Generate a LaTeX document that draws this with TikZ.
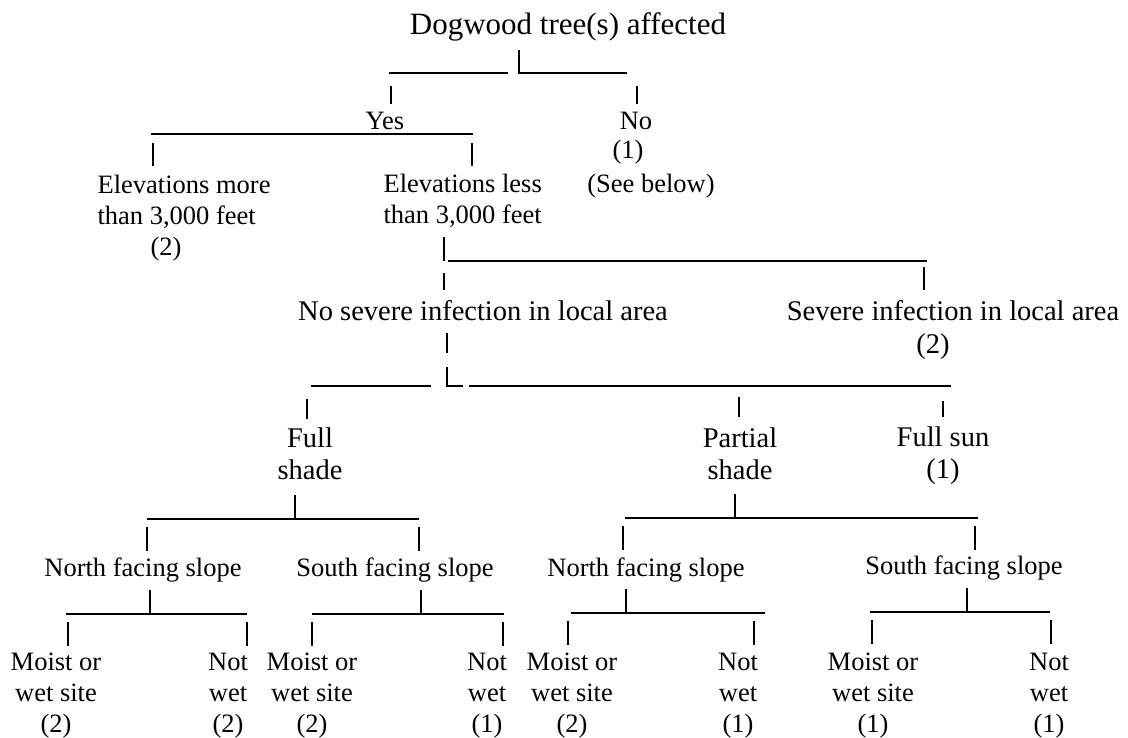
\documentclass[tikz,border=0pt]{standalone}
\usepackage{fontspec}
\setmainfont{Liberation Serif}
\begin{document}
\begin{tikzpicture}[x=1pt,y=-1pt,line width=1.2pt,
  lbl/.style={inner sep=0pt,anchor=base,align=center,font=\fontsize{26.5}{31}\selectfont},
  big/.style={lbl,font=\fontsize{28.5}{32}\selectfont}]
  \useasboundingbox (0,0) rectangle (1128,738);
  \node[lbl,font=\fontsize{31}{36}\selectfont] (top) at (568,35) {Dogwood tree(s) affected};
  \node[lbl] (yes) at (385,130) {Yes};
  \node[lbl] (no) at (636,130) {No};
  \node[lbl] (noa) at (628,159) {(1)};
  \node[lbl] (nob) at (651,193) {(See below)};
  \node[lbl,anchor=base west,align=left] (hi) at (97,225) {Elevations more\\than 3,000 feet};
  \node[lbl] (hia) at (166,256) {(2)};
  \node[lbl,anchor=base west,align=left] (lo) at (383,224) {Elevations less\\than 3,000 feet};
  \node[big] (nosev) at (483,320) {No severe infection in local area};
  \node[big] (sev) at (953,320) {Severe infection in local area};
  \node[big] (seva) at (933,353) {(2)};
  \node[big] (fshade) at (310,479) {Full\\shade};
  \node[big] (pshade) at (740,479) {Partial\\shade};
  \node[big] (fsun) at (943,478) {Full sun\\(1)};
  \node[lbl] (fn) at (143,576) {North facing slope};
  \node[lbl] (fs) at (395,576) {South facing slope};
  \node[lbl] (pn) at (646,576) {North facing slope};
  \node[lbl] (ps) at (964,574) {South facing slope};
  \foreach \n/\x/\v in {fnm/56/2,fsm/312/2,pnm/572/2,psm/873/1}
    \node[lbl] (\n) at (\x,732) {Moist or\\wet site\\(\v)};
  \foreach \n/\x/\v in {fnn/228/2,fsn/487/1,pnn/738/1,psn/1049/1}
    \node[lbl] (\n) at (\x,732) {Not\\wet\\(\v)};
  % top fork
  \coordinate (t0) at (519,50);
  \coordinate (t1) at (519,73);
  \draw (t0) -- (t1) -- (627,73);
  \draw (389,73) -- (508,73);
  \draw (391,86) -- (391,104);
  \draw (637,86) -- (637,104);
  % yes fork
  \coordinate (y0) at (151,134);
  \coordinate (y1) at (473,134);
  \draw (y0) -- (y1);
  \draw (153,143) -- (153,166);
  \draw (472,143) -- (472,166);
  % below 3,000 feet
  \coordinate (l0) at (444,237);
  \coordinate (l1) at (444,261);
  \draw (l0) -- (l1);
  \draw (448,261) -- (927,261);
  \draw (444,273) -- (444,290);
  \draw (924,267) -- (924,290);
  % below no severe infection
  \coordinate (n0) at (447,333);
  \coordinate (n1) at (447,386);
  \draw (n0) -- (447,353);
  \draw (447,367) -- (n1) -- (463,386);
  \draw (311,386) -- (431,386);
  \draw (469,386) -- (951,386);
  \draw (307,399) -- (307,419);
  \draw (739,397) -- (739,417);
  \draw (943,401) -- (943,417);
  % lower forks
  \foreach \f/\p/\l/\r/\tl/\tr/\y in {fsh/295/147/419/147/419/519,psh/735/625/978/623/975/518,
      fno/150/66/247/68/247/614,fso/421/312/504/312/503/614,
      pno/626/571/765/568/754/613,pso/967/870/1050/872/1051/612}{
    \coordinate (\f-p) at (\p,\y-24);
    \coordinate (\f-l) at (\l,\y);
    \coordinate (\f-r) at (\r,\y);
    \draw (\f-p) -- (\p,\y);
    \draw (\f-l) -- (\f-r);
    \draw (\tl,\y+8) -- (\tl,\y+32);
    \draw (\tr,\y+8) -- (\tr,\y+32);
  }
\end{tikzpicture}
\end{document}
